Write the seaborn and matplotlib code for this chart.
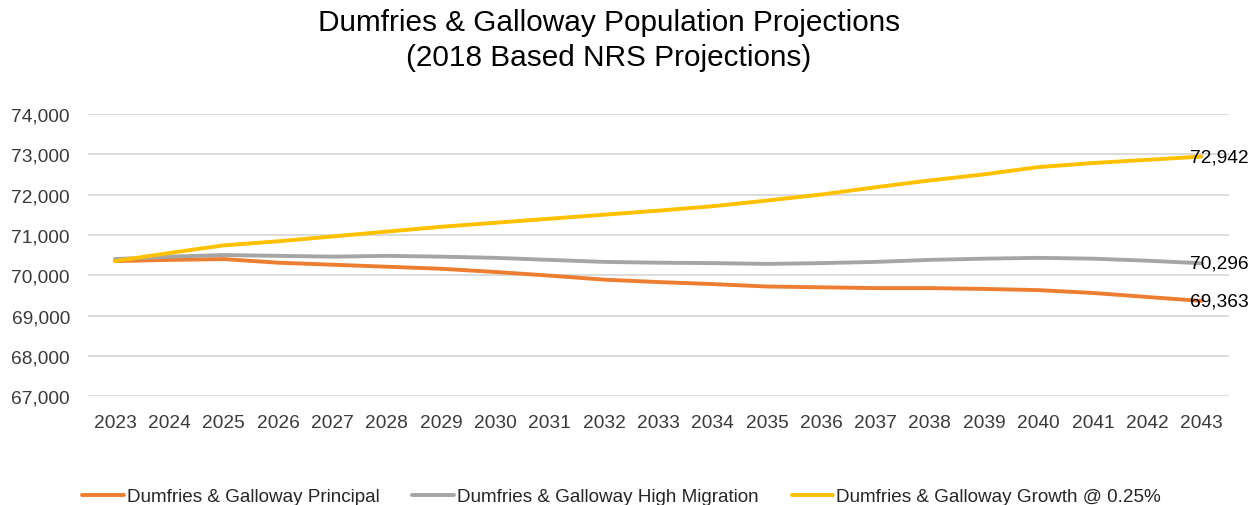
import matplotlib
matplotlib.use("Agg")
import matplotlib.pyplot as plt
import seaborn as sns
import pandas as pd

years = list(range(2023, 2044))
principal = [70350, 70380, 70400, 70310, 70260, 70210, 70160, 70080, 69990, 69890,
             69830, 69780, 69720, 69700, 69680, 69680, 69660, 69630, 69560, 69460, 69363]
high_migration = [70400, 70460, 70500, 70480, 70460, 70480, 70460, 70430, 70380, 70330,
                  70310, 70300, 70280, 70300, 70330, 70380, 70410, 70430, 70410, 70360, 70296]
growth = [70350, 70550, 70740, 70840, 70960, 71080, 71200, 71300, 71400, 71500,
          71600, 71710, 71850, 72000, 72180, 72350, 72500, 72680, 72780, 72860, 72942]

series_names = ["Dumfries & Galloway Principal",
                "Dumfries & Galloway High Migration",
                "Dumfries & Galloway Growth @ 0.25%"]
colors = ["#ED7D31", "#A5A5A5", "#FFC000"]
y_ticks = [67000, 68000, 69000, 70000, 71000, 72000, 73000, 74000]

df = pd.concat([
    pd.DataFrame({"Year": years, "Population": vals, "Series": name})
    for name, vals in zip(series_names, [principal, high_migration, growth])
], ignore_index=True)

sns.set_theme(style="white")
plt.rcParams["font.family"] = ["Liberation Sans", "DejaVu Sans"]

fig = plt.figure(figsize=(12.48, 5.06), dpi=100)
ax = fig.add_axes([0.0705, 0.215, 0.914, 0.558])

sns.lineplot(data=df, x="Year", y="Population", hue="Series",
             hue_order=series_names, palette=colors, linewidth=2.8,
             ax=ax, legend=False, zorder=3)

ax.set_ylim(67000, 74000)
ax.set_xlim(2022.5, 2043.5)
ax.set_yticks(y_ticks)
ax.set_yticklabels([f"{v:,}" for v in y_ticks], fontsize=13.8, color="#3a3a3a")
ax.set_xticks(years)
ax.set_xticklabels([str(y) for y in years], fontsize=13.8, color="#3a3a3a")
ax.tick_params(axis="y", length=0, pad=13)
ax.tick_params(axis="x", length=0, pad=13)
ax.yaxis.grid(True, color="#d9d9d9", linewidth=1.3)
ax.xaxis.grid(False)
for s in ax.spines.values():
    s.set_visible(False)
ax.set_xlabel("")
ax.set_ylabel("")

for name, vals in zip(series_names, [principal, high_migration, growth]):
    ax.text(years[-1] - 0.22, vals[-1], f"{vals[-1]:,}", ha="left", va="center",
            fontsize=13.8, color="#000000", zorder=4)

fig.suptitle("Dumfries & Galloway Population Projections\n(2018 Based NRS Projections)",
             x=0.488, y=0.983, fontsize=21.4, color="#000000", linespacing=1.33)

handles = [plt.Line2D([0], [0], color=c, linewidth=2.8) for c in colors]
fig.legend(handles, series_names, loc="lower center", bbox_to_anchor=(0.498, -0.034),
           ncol=3, frameon=False, fontsize=13.6, handlelength=2.2,
           handletextpad=0.15, columnspacing=1.75)

fig.savefig("out.png", dpi=100)
